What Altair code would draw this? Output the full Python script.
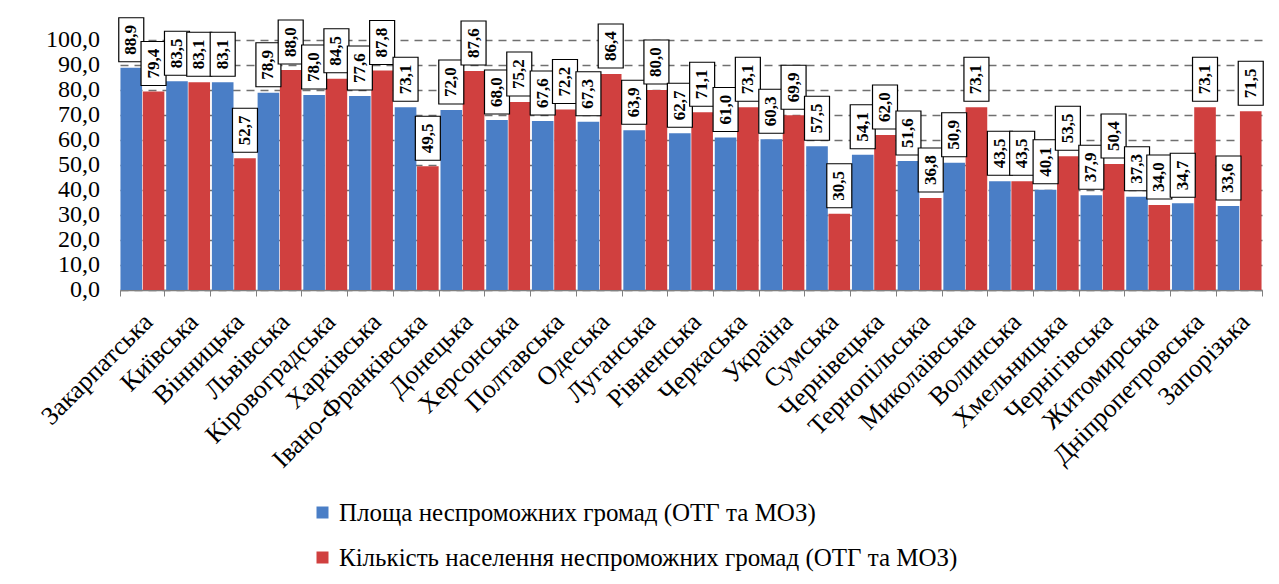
import altair as alt
import pandas as pd

regions = ["Закарпатська", "Київська", "Вінницька", "Львівська", "Кіровоградська",
           "Харківська", "Івано-Франківська", "Донецька", "Херсонська", "Полтавська",
           "Одеська", "Луганська", "Рівненська", "Черкаська", "Україна", "Сумська",
           "Чернівецька", "Тернопільська", "Миколаївська", "Волинська", "Хмельницька",
           "Чернігівська", "Житомирська", "Дніпропетровська", "Запорізька"]
area = [88.9, 83.5, 83.1, 78.9, 78.0, 77.6, 73.1, 72.0, 68.0, 67.6, 67.3, 63.9, 62.7,
        61.0, 60.3, 57.5, 54.1, 51.6, 50.9, 43.5, 40.1, 37.9, 37.3, 34.7, 33.6]
population = [79.4, 83.1, 52.7, 88.0, 84.5, 87.8, 49.5, 87.6, 75.2, 72.2, 86.4, 80.0, 71.1,
              73.1, 69.9, 30.5, 62.0, 36.8, 73.1, 43.5, 53.5, 50.4, 34.0, 73.1, 71.5]
series = ["Площа неспроможних громад (ОТГ та МОЗ)",
          "Кількість населення неспроможних громад (ОТГ та МОЗ)"]
colors = ["#4A7EC6", "#D0403F"]
y_ticks = [0, 10, 20, 30, 40, 50, 60, 70, 80, 90, 100]

rows = []
for r, a, p in zip(regions, area, population):
    rows.append({"region": r, "series": series[0], "value": a})
    rows.append({"region": r, "series": series[1], "value": p})
df = pd.DataFrame(rows)
df["label"] = df["value"].map(lambda v: f"{v:.1f}".replace(".", ","))
reg_df = pd.DataFrame({"region": regions, "value": [0] * len(regions)})
tick_df = pd.DataFrame({"value": y_ticks,
                        "label": [f"{v:.1f}".replace(".", ",") for v in y_ticks]})

FONT = "Liberation Serif"

x = alt.X("region:N", sort=regions,
          scale=alt.Scale(paddingInner=0.04, paddingOuter=0.01),
          axis=alt.Axis(title=None, labels=False,
                        tickBand="extent", tickSize=6, tickColor="#808080",
                        domainColor="#808080", domainWidth=1.5, grid=False))
xo = alt.XOffset("series:N", sort=series, scale=alt.Scale(paddingInner=0.03))
y_axis = alt.Axis(title=None, values=y_ticks, labels=False, ticks=False, domain=False,
                  grid=True, gridDash=[8, 6], gridColor="#707070", gridWidth=1.3)
y = alt.Y("value:Q", scale=alt.Scale(domain=[0, 100]), axis=y_axis)

bars = alt.Chart(df).mark_bar().encode(
    x=x, xOffset=xo, y=y,
    color=alt.Color("series:N", sort=series,
                    scale=alt.Scale(domain=series, range=colors),
                    legend=alt.Legend(title=None, orient="none", legendX=190, legendY=460,
                                      direction="vertical", symbolType="square",
                                      symbolSize=144, labelFont=FONT, labelFontSize=25,
                                      labelColor="black", rowPadding=19, labelOffset=4,
                                      labelLimit=1000, symbolStrokeWidth=0))
)

box_path = "M-1,-1.76H1V1.76H-1Z"
boxes = alt.Chart(df).mark_point(shape=box_path, size=625, filled=True, fill="white",
                                 stroke="black", strokeWidth=1.2, opacity=1,
                                 yOffset=-28).encode(x=x, xOffset=xo, y=y)

texts = alt.Chart(df).mark_text(angle=270, font=FONT, fontWeight="bold", fontSize=17,
                                color="black", align="center", baseline="middle",
                                yOffset=-28).encode(x=x, xOffset=xo, y=y, text="label:N")

xlabels = alt.Chart(reg_df).mark_text(angle=315, font=FONT, fontSize=26, color="black",
                                      align="right", baseline="middle",
                                      xOffset=6, yOffset=28).encode(
    x=x, y=y, text="region:N")

ylabels = alt.Chart(tick_df).mark_text(font=FONT, fontSize=24, color="black",
                                       align="right", baseline="middle").encode(
    x=alt.value(-20), y=y, text="label:N")

chart = alt.layer(bars, boxes, texts, xlabels, ylabels).properties(
    width=1142, height=250,
    autosize=alt.AutoSizeParams(type="none"),
    padding={"left": 112, "top": 32, "right": 9, "bottom": 286},
).configure(
    background="white", font=FONT,
).configure_view(stroke=None)

chart.save("out.html", embed_options={"renderer": "svg", "actions": False})
